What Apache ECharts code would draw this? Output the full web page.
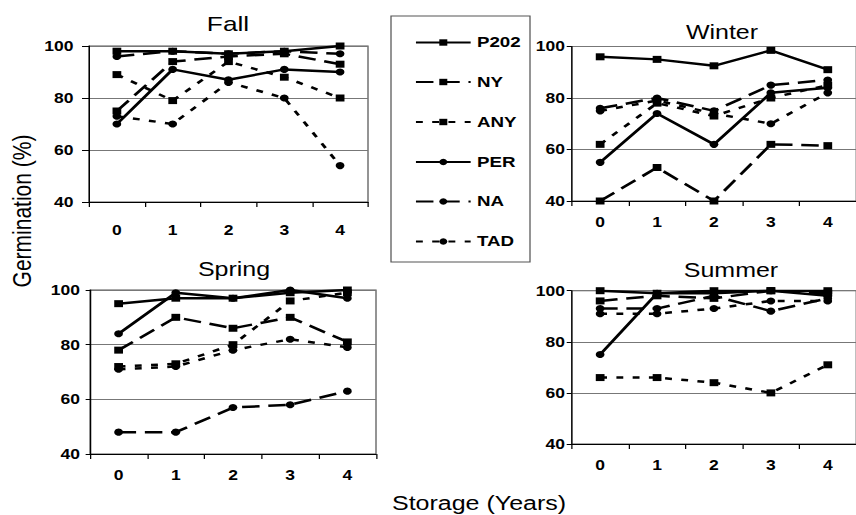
<!DOCTYPE html>
<html>
<head>
<meta charset="utf-8">
<script src="https://cdn.jsdelivr.net/npm/echarts@6/dist/echarts.min.js"></script>
<style>
  html, body { margin: 0; padding: 0; background: #fff; overflow: hidden; }
  #chart { height: 515px; transform-origin: 0 0; }
</style>
</head>
<body>
<div id="chart"></div>
<script>
// the source figure is stretched sideways, so draw narrow and widen it
var SX = 1.25;
function X(v) { return v / SX; }

var years = ['0', '1', '2', '3', '4'];
var seriesNames = ['P202', 'NY', 'ANY', 'PER', 'NA', 'TAD'];

// rows follow seriesNames
var fallData = [
  [98, 98, 97, 98, 100],
  [75, 94, 96, 97, 93],
  [89, 79, 94, 88, 80],
  [70, 91, 87, 91, 90],
  [96, 98, 97, 98, 97],
  [73, 70, 86, 80, 54]
];
var winterData = [
  [96, 95, 92.5, 98.5, 91],
  [40, 53, 40, 62, 61.5],
  [62, 78, 73, 80, 85],
  [55, 74, 62, 82, 84],
  [76, 80, 75, 85, 87],
  [75, 79, 74, 70, 82]
];
var springData = [
  [95, 97, 97, 99, 100],
  [78, 90, 86, 90, 81],
  [72, 73, 80, 96, 99],
  [84, 99, 97, 100, 97],
  [48, 48, 57, 58, 63],
  [71, 72, 78, 82, 79]
];
var summerData = [
  [100, 99, 100, 100, 100],
  [96, 98, 97, 100, 99],
  [66, 66, 64, 60, 71],
  [75, 99, 99, 100, 98],
  [93, 93, 98, 92, 97],
  [91, 91, 93, 96, 96]
];

var FONT = "'Liberation Sans', Arial, sans-serif";
var LONG = [14, 7], SHORT = [5.5, 7.5];
var styles = {
  P202: { symbol: 'rect', type: 'solid' },
  NY: { symbol: 'rect', type: LONG },
  ANY: { symbol: 'rect', type: SHORT },
  PER: { symbol: 'circle', type: 'solid' },
  NA: { symbol: 'circle', type: LONG },
  TAD: { symbol: 'circle', type: SHORT }
};

var panels = [
  { title: 'Fall', data: fallData, left: 89, top: 46, width: 279, height: 156,
    tx: 228, ty: 23, tsize: 21, xm: 21, ym: 12.5, yt: 5.6 },
  { title: 'Winter', data: winterData, left: 571.7, top: 46.5, width: 294, height: 154.5,
    tx: 722, ty: 32, tsize: 20, xm: 14, ym: 5.4, yt: 4 },
  { title: 'Spring', data: springData, left: 90, top: 290, width: 286, height: 164,
    tx: 234, ty: 269, tsize: 20, xm: 14, ym: 8, yt: 3.5 },
  { title: 'Summer', data: summerData, left: 571.7, top: 290.7, width: 294, height: 153.3,
    tx: 731, ty: 270.5, tsize: 20, xm: 14, ym: 5.4, yt: 4 }
];

var el = document.getElementById('chart');
el.style.width = X(856) + 'px';
el.style.transform = 'scaleX(' + SX + ')';
var chart = echarts.init(el, null, { renderer: 'svg' });

var grids = [], xAxes = [], yAxes = [], series = [], graphics = [];
panels.forEach(function (p, i) {
  grids.push({
    left: X(p.left), top: p.top, width: X(p.width), height: p.height,
    show: true, borderColor: '#555', borderWidth: 1, backgroundColor: 'transparent'
  });
  xAxes.push({
    type: 'category', gridIndex: i, data: years, boundaryGap: true,
    axisLine: { lineStyle: { color: '#000', width: 1 } },
    axisTick: { show: true, length: 5, lineStyle: { color: '#000' } },
    axisLabel: { color: '#000', fontWeight: 'bold', fontSize: 14, fontFamily: FONT, margin: p.xm },
    splitLine: { show: false }
  });
  yAxes.push({
    type: 'value', gridIndex: i, min: 40, max: 100, interval: 20,
    axisLine: { show: true, lineStyle: { color: '#000', width: 1 } },
    axisTick: { show: true, length: p.yt, lineStyle: { color: '#000' } },
    axisLabel: { color: '#000', fontWeight: 'bold', fontSize: 14, fontFamily: FONT, margin: p.ym },
    splitLine: { show: true, lineStyle: { color: '#777', width: 1 } }
  });
  seriesNames.forEach(function (name, k) {
    series.push({
      name: name, type: 'line', xAxisIndex: i, yAxisIndex: i,
      data: p.data[k],
      symbol: styles[name].symbol, symbolSize: 7, showAllSymbol: true,
      itemStyle: { color: '#000' },
      lineStyle: { color: '#000', width: 2.5, type: styles[name].type },
      emphasis: { disabled: true },
      animation: false
    });
  });
  graphics.push({
    type: 'text', x: X(p.tx), y: p.ty,
    style: { text: p.title, fontSize: p.tsize, fontFamily: FONT, fill: '#000',
      align: 'center', verticalAlign: 'middle', textAlign: 'center', textVerticalAlign: 'middle' }
  });
});

graphics.push({
  type: 'text', x: X(22), y: 211, rotation: Math.PI / 2,
  style: { text: 'Germination (%)', fontSize: 21, fontFamily: FONT, fill: '#000',
    align: 'center', verticalAlign: 'middle', textAlign: 'center', textVerticalAlign: 'middle' }
});
graphics.push({
  type: 'text', x: X(392), y: 503,
  style: { text: 'Storage (Years)', fontSize: 20, fontFamily: FONT, fill: '#000',
    align: 'left', verticalAlign: 'middle', textAlign: 'left', textVerticalAlign: 'middle' }
});
graphics.push({
  type: 'rect', z: -1,
  shape: { x: X(391), y: 16, width: X(139), height: 246 },
  style: { fill: '#fff', stroke: '#555', lineWidth: 1 }
});

// one legend per row so each line sits where it does in the figure
var legendRows = [42.5, 82, 122, 162, 201.5, 241.5];
var legends = seriesNames.map(function (name, k) {
  return {
    data: [name], left: X(414.7), top: legendRows[k] - 7.5, padding: 0,
    itemWidth: X(54.7), itemHeight: 8, itemGap: 0,
    selectedMode: false,
    textStyle: { color: '#000', fontWeight: 'bold', fontSize: 15, fontFamily: FONT }
  };
});

chart.setOption({
  animation: false,
  backgroundColor: '#fff',
  grid: grids,
  xAxis: xAxes,
  yAxis: yAxes,
  legend: legends,
  graphic: graphics,
  series: series
});
</script>
</body>
</html>
